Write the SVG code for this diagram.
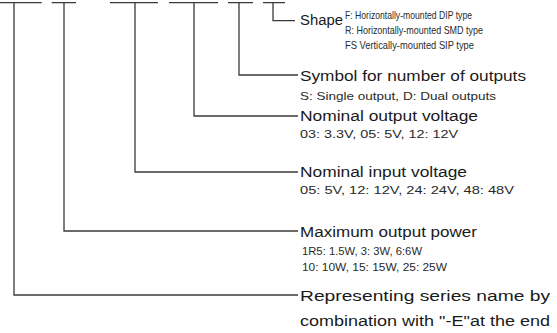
<svg xmlns="http://www.w3.org/2000/svg" width="557" height="333" viewBox="0 0 557 333">
<style>
.ln{fill:none;stroke:#3a3a3a;stroke-width:1.3}
.big{font-family:"Liberation Sans",Arial,sans-serif;font-size:15.5px;fill:#1a1a1a}
.sm{font-family:"Liberation Sans",Arial,sans-serif;font-size:11px;fill:#2a2a2a}
.nar{font-family:"Liberation Sans",Arial,sans-serif;font-size:11px;fill:#2a2a2a}
</style>
<rect width="557" height="333" fill="#ffffff"/>
<g id="connectors">
<path class="ln" d="M0 2.7H41.7M51.7 2.7H76M110 2.7H158M169 2.7H218M228 2.7H253M263 2.7H285"/>
<path class="ln" d="M273 2.7V20.7H295"/>
<path class="ln" d="M239 2.7V75H298"/>
<path class="ln" d="M194 2.7V116H298"/>
<path class="ln" d="M135 2.7V172H298"/>
<path class="ln" d="M64 2.7V231H298"/>
<path class="ln" d="M14 2.7V295H298"/>
</g>
<g id="shape">
<text class="big" x="300" y="25" textLength="43" lengthAdjust="spacingAndGlyphs">Shape</text>
<text class="nar" x="345" y="19" textLength="127" lengthAdjust="spacingAndGlyphs">F: Horizontally-mounted DIP type</text>
<text class="nar" x="345" y="34" textLength="138" lengthAdjust="spacingAndGlyphs">R: Horizontally-mounted SMD type</text>
<text class="nar" x="345" y="49" textLength="129" lengthAdjust="spacingAndGlyphs">FS Vertically-mounted SIP type</text>
</g>
<g id="outputs">
<text class="big" x="300" y="81" textLength="226" lengthAdjust="spacingAndGlyphs">Symbol for number of outputs</text>
<text class="sm" x="300" y="100" textLength="196" lengthAdjust="spacingAndGlyphs">S: Single output, D: Dual outputs</text>
</g>
<g id="output-voltage">
<text class="big" x="300" y="121" textLength="178" lengthAdjust="spacingAndGlyphs">Nominal output voltage</text>
<text class="sm" x="300" y="138" textLength="158" lengthAdjust="spacingAndGlyphs">03: 3.3V, 05: 5V, 12: 12V</text>
</g>
<g id="input-voltage">
<text class="big" x="300" y="177" textLength="167" lengthAdjust="spacingAndGlyphs">Nominal input voltage</text>
<text class="sm" x="300" y="194" textLength="214" lengthAdjust="spacingAndGlyphs">05: 5V, 12: 12V, 24: 24V, 48: 48V</text>
</g>
<g id="power">
<text class="big" x="300" y="237" textLength="177" lengthAdjust="spacingAndGlyphs">Maximum output power</text>
<text class="sm" x="302" y="255" textLength="120" lengthAdjust="spacingAndGlyphs">1R5: 1.5W, 3: 3W, 6:6W</text>
<text class="sm" x="302" y="271" textLength="145" lengthAdjust="spacingAndGlyphs">10: 10W, 15: 15W, 25: 25W</text>
</g>
<g id="series">
<text class="big" x="300" y="301" textLength="250" lengthAdjust="spacingAndGlyphs">Representing series name by</text>
<text class="big" x="300" y="326" textLength="250" lengthAdjust="spacingAndGlyphs">combination with "-E"at the end</text>
</g>
</svg>
